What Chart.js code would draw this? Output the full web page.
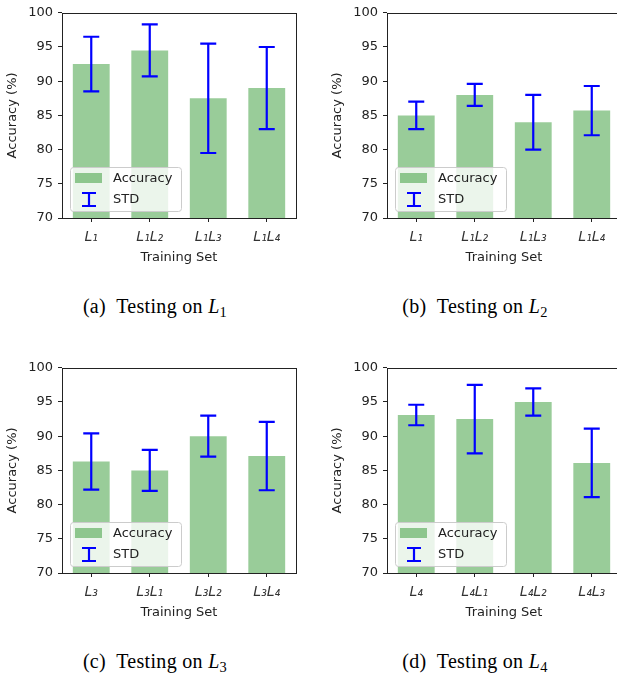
<!DOCTYPE html>
<html>
<head>
<meta charset="UTF-8">
<title>Accuracy per training set</title>
<script src="https://cdn.jsdelivr.net/npm/chart.js@4"></script>
<style>
  body { margin: 0; width: 617px; height: 677px; overflow: hidden; background: #fff; position: relative; }
  .panel { position: absolute; }
  .cap { position: absolute; width: 310px; text-align: center; font-family: "Liberation Serif", serif; font-size: 20px; color: #000; letter-spacing: 0.3px; }
  .cap sub { font-size: 72%; vertical-align: baseline; position: relative; top: 0.28em; font-style: normal; }
</style>
</head>
<body>
<div class="panel" style="left:0;top:0"><canvas id="ca" width="310" height="270"></canvas></div>
<div class="panel" style="left:325px;top:0"><canvas id="cb" width="310" height="270"></canvas></div>
<div class="panel" style="left:0;top:355px"><canvas id="cc" width="310" height="270"></canvas></div>
<div class="panel" style="left:325px;top:355px"><canvas id="cd" width="310" height="270"></canvas></div>

<div class="cap" style="left:0;top:295px">(a)&nbsp; Testing on <i>L</i><sub>1</sub></div>
<div class="cap" style="left:320px;top:295px">(b)&nbsp; Testing on <i>L</i><sub>2</sub></div>
<div class="cap" style="left:0;top:650px">(c)&nbsp; Testing on <i>L</i><sub>3</sub></div>
<div class="cap" style="left:320px;top:650px">(d)&nbsp; Testing on <i>L</i><sub>4</sub></div>

<script>
// training sets per panel
const setsA = ['L₁', 'L₁L₂', 'L₁L₃', 'L₁L₄'];
const setsB = ['L₁', 'L₁L₂', 'L₁L₃', 'L₁L₄'];
const setsC = ['L₃', 'L₃L₁', 'L₃L₂', 'L₃L₄'];
const setsD = ['L₄', 'L₄L₁', 'L₄L₂', 'L₄L₃'];

// mean accuracy (%)
const accA = [92.5, 94.5, 87.5, 89.0];
const accB = [85.0, 88.0, 84.0, 85.7];
const accC = [86.3, 85.0, 90.0, 87.1];
const accD = [93.1, 92.5, 95.0, 86.1];

// standard deviation
const stdA = [4.0, 3.8, 8.0, 6.0];
const stdB = [2.0, 1.6, 4.0, 3.6];
const stdC = [4.1, 3.0, 3.0, 5.0];
const stdD = [1.5, 5.0, 2.0, 5.0];

const yTicks = [70, 75, 80, 85, 90, 95, 100];
const legendLabels = ['Accuracy', 'STD'];

const barColor = 'rgba(0,128,0,0.4)';
const errColor = '#0000ff';
const axisFont = { family: 'DejaVu Sans', size: 13 };

// frame + error bars + legend
const extras = {
    id: 'extras',
    afterDatasetsDraw(chart) {
        const c = chart.ctx;
        const area = chart.chartArea;
        const y = chart.scales.y;
        const std = chart.options.plugins.extras.std;
        const vals = chart.data.datasets[0].data;
        const bars = chart.getDatasetMeta(0).data;

        c.save();
        c.strokeStyle = errColor;
        c.lineWidth = 2.2;
        bars.forEach((b, i) => {
            const top = y.getPixelForValue(vals[i] + std[i]);
            const bot = y.getPixelForValue(vals[i] - std[i]);
            c.beginPath();
            c.moveTo(b.x, top); c.lineTo(b.x, bot);
            c.moveTo(b.x - 8, top); c.lineTo(b.x + 8, top);
            c.moveTo(b.x - 8, bot); c.lineTo(b.x + 8, bot);
            c.stroke();
        });

        // spines
        c.strokeStyle = '#222';
        c.lineWidth = 1;
        c.strokeRect(Math.round(area.left) + 0.5, Math.round(area.top) + 0.5,
            Math.round(area.right - area.left), Math.round(area.bottom - area.top));

        // legend box, lower left
        const lx = area.left + 8, lw = 111, lh = 44;
        const ly = area.bottom - 7 - lh;
        c.fillStyle = 'rgba(255,255,255,0.8)';
        c.strokeStyle = '#cccccc';
        c.beginPath();
        c.roundRect(lx + 0.5, ly + 0.5, lw, lh, 3);
        c.fill();
        c.stroke();

        c.fillStyle = barColor;
        c.fillRect(lx + 5, ly + 6, 27, 10);

        c.strokeStyle = errColor;
        c.lineWidth = 2.2;
        c.beginPath();
        c.moveTo(lx + 19, ly + 26); c.lineTo(lx + 19, ly + 39);
        c.moveTo(lx + 12, ly + 26); c.lineTo(lx + 26, ly + 26);
        c.moveTo(lx + 12, ly + 39); c.lineTo(lx + 26, ly + 39);
        c.stroke();

        c.fillStyle = '#222';
        c.font = '13px "DejaVu Sans"';
        c.textBaseline = 'middle';
        c.fillText(legendLabels[0], lx + 43, ly + 12);
        c.fillText(legendLabels[1], lx + 43, ly + 33);
        c.restore();
    }
};

function makeChart(id, sets, acc, std) {
    return new Chart(document.getElementById(id), {
        type: 'bar',
        data: {
            labels: sets,
            datasets: [{
                label: legendLabels[0],
                data: acc,
                backgroundColor: barColor,
                borderWidth: 0,
                barPercentage: 0.63,
                categoryPercentage: 1.0
            }]
        },
        options: {
            responsive: false,
            animation: false,
            devicePixelRatio: 1,
            layout: { padding: { top: 8, right: 14, left: 0, bottom: 0 } },
            plugins: {
                legend: { display: false },
                tooltip: { enabled: false },
                extras: { std: std }
            },
            scales: {
                x: {
                    grid: { display: true, drawOnChartArea: false, offset: false, tickLength: 4, color: '#222' },
                    border: { display: false },
                    ticks: { color: '#333', padding: 7, font: { family: 'DejaVu Sans', size: 14, style: 'italic' } },
                    title: { display: true, text: 'Training Set', color: '#222', font: axisFont, padding: { top: 0, bottom: 5 } },
                    afterFit(s) { s.height = 52; }
                },
                y: {
                    min: 70,
                    max: 100,
                    afterBuildTicks(s) { s.ticks = yTicks.map(v => ({ value: v })); },
                    grid: { display: true, drawOnChartArea: false, tickLength: 4, color: '#222' },
                    border: { display: false },
                    ticks: { color: '#222', padding: 5, font: axisFont },
                    title: { display: true, text: 'Accuracy (%)', color: '#222', font: axisFont, padding: { top: 5, bottom: 0 } },
                    afterFit(s) { s.width = 62; }
                }
            }
        },
        plugins: [extras]
    });
}

makeChart('ca', setsA, accA, stdA);
makeChart('cb', setsB, accB, stdB);
makeChart('cc', setsC, accC, stdC);
makeChart('cd', setsD, accD, stdD);
</script>
</body>
</html>
